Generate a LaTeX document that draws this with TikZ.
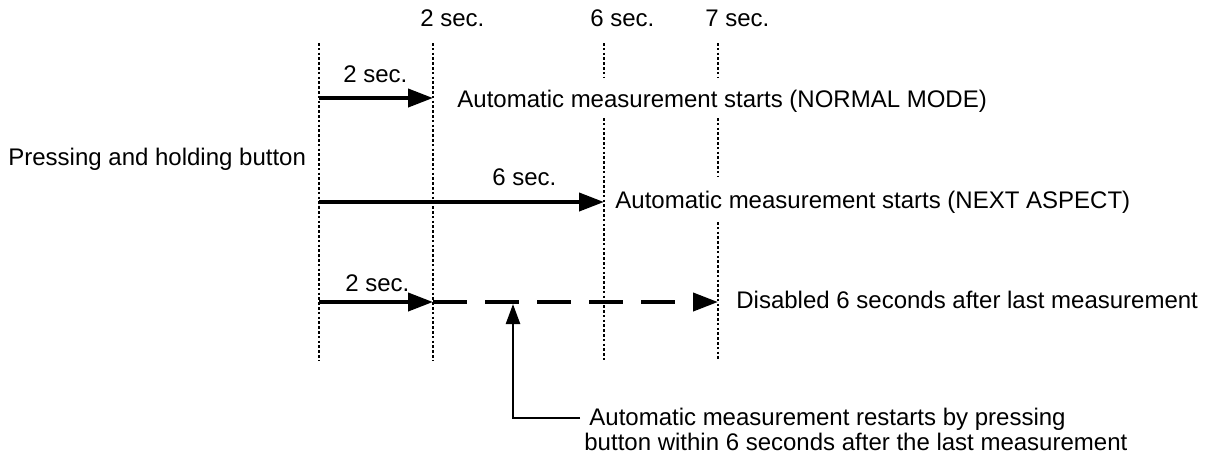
\documentclass[tikz,border=0pt]{standalone}
\usepackage{fontspec}
\setmainfont{Liberation Sans}
\usetikzlibrary{arrows.meta}
\begin{document}
\begin{tikzpicture}[x=0.5pt,y=-0.5pt,
  lbl/.style={anchor=base west,inner sep=0pt,font=\fontsize{12pt}{14pt}\selectfont},
  guide/.style={line width=1.1pt,dash pattern=on 1.3pt off 1.1pt},
  bigarrow/.style={line width=2pt,-{Triangle[length=12.5pt,width=9pt]}},
  dasharrow/.style={bigarrow,dash pattern=on 17pt off 9pt},
  leader/.style={line width=1.2pt},
  uparrow/.style={leader,-{Triangle[length=10pt,width=7pt]}}]
\useasboundingbox (0,0) rectangle (1212,463);
% guide line coordinates
\coordinate (g0t) at (319,43);  \coordinate (g0b) at (319,360);
\coordinate (g2t) at (433,43);  \coordinate (g2b) at (433,360);
\coordinate (g6t) at (604,43);  \coordinate (g6a) at (604,77);
\coordinate (g6c) at (604,118); \coordinate (g6b) at (604,360);
\coordinate (g7t) at (718,43);  \coordinate (g7a) at (718,77);
\coordinate (g7c) at (718,118); \coordinate (g7d) at (718,177);
\coordinate (g7e) at (718,222); \coordinate (g7b) at (718,360);
% guide lines
\draw[guide] (g0t) -- (g0b);
\draw[guide] (g2t) -- (g2b);
\draw[guide] (g6t) -- (g6a) (g6c) -- (g6b);
\draw[guide] (g7t) -- (g7a) (g7c) -- (g7d) (g7e) -- (g7b);
% top labels
\node[lbl] (t2) at (420,26) {2 sec.};
\node[lbl] (t6) at (590,26) {6 sec.};
\node[lbl] (t7) at (705,26) {7 sec.};
% left label
\node[lbl] (press) at (8,165) {Pressing and holding button};
% row 1
\coordinate (r1s) at (319,98); \coordinate (r1e) at (433,98);
\draw[bigarrow] (r1s) -- (r1e);
\node[lbl] (r1l) at (343,82) {2 sec.};
\node[lbl] (r1t) at (457,107) {Automatic measurement starts (NORMAL MODE)};
% row 2
\coordinate (r2s) at (319,202); \coordinate (r2e) at (604,202);
\draw[bigarrow] (r2s) -- (r2e);
\node[lbl] (r2l) at (492,185) {6 sec.};
\node[lbl] (r2t) at (615,208) {Automatic measurement starts (NEXT ASPECT)};
% row 3
\coordinate (r3s) at (319,302); \coordinate (r3m) at (433,302); \coordinate (r3e) at (718,302);
\draw[bigarrow] (r3s) -- (r3m);
\draw[dasharrow] (r3m) -- (r3e);
\node[lbl] (r3l) at (345,291) {2 sec.};
\node[lbl] (r3t) at (736,308) {Disabled 6 seconds after last measurement};
% restart note
\coordinate (up) at (513,304);
\coordinate (corner) at (513,418);
\coordinate (lend) at (580,418);
\draw[uparrow] (lend) -- (corner) -- (up);
\node[lbl] (n1) at (589,425) {Automatic measurement restarts by pressing};
\node[lbl] (n2) at (584,450) {button within 6 seconds after the last measurement};
\end{tikzpicture}
\end{document}
